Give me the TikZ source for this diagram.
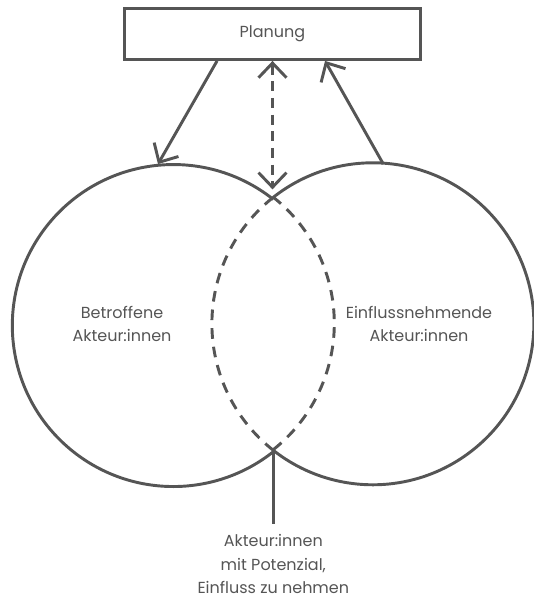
\documentclass[tikz,border=0pt]{standalone}
\usepackage{fontspec}
\setmainfont{Poppins}
\usetikzlibrary{arrows.meta,positioning,calc}
\definecolor{ink}{HTML}{555555}

\begin{document}
\begin{tikzpicture}[x=0.75pt,y=0.75pt,
    every node/.style={text=ink,font=\fontsize{12}{17.5}\selectfont},
    box/.style={draw=ink,line width=2.4pt,minimum width=222pt,minimum height=38pt},
    ring/.style={circle,minimum size=241.5pt,inner sep=0pt,outer sep=0pt},
    solidline/.style={draw=ink,line width=2.2pt},
    dashline/.style={draw=ink,line width=2.2pt,dash pattern=on 8pt off 6pt},
    arr/.style={solidline,-{Straight Barb[length=11pt,width=21pt]}},
    dasharr/.style={draw=ink,line width=2.2pt,dash pattern=on 7.5pt off 5pt,
        {Straight Barb[length=11pt,width=21pt]}-{Straight Barb[length=11pt,width=21pt]}},
    lbl/.style={align=center}]
    \useasboundingbox (0,0) rectangle (534,600);

    % Planung oben
    \node[box] (planung) at (272.5,566) {Planung};

    % die zwei Kreise
    \node[ring] (betr) at (172,275.5) {};
    \node[ring] (einfl) at (372,275.5) {};
    \coordinate (lenstop) at (betr.51.6);
    \coordinate (lensbot) at (betr.-51.6);

    \draw[solidline] (betr.51.6) arc[start angle=51.6,end angle=308.4,radius=120.75pt];
    \draw[solidline] (einfl.128.4) arc[start angle=128.4,end angle=-128.4,radius=120.75pt];
    \draw[dashline] (betr.-51.6) arc[start angle=-51.6,end angle=51.6,radius=120.75pt];
    \draw[dashline] (einfl.128.4) arc[start angle=128.4,end angle=231.6,radius=120.75pt];

    \node[lbl] (betrtxt) at (122,276) {Betroffene\\Akteur:innen};
    \node[lbl] (einfltxt) at (419,276) {Einflussnehmende\\Akteur:innen};

    % Pfeile
    \draw[arr] ([xshift=-41.6pt]planung.south) -- (betr.95);
    \draw[arr] (einfl.86) -- ([xshift=39.4pt]planung.south);
    \draw[dasharr,shorten >=7.5pt] (planung.south) -- (planung.south |- lenstop);

    % unten
    \coordinate[below=56pt of lensbot] (stemend);
    \node[lbl,below=7.5pt of stemend,inner sep=0pt] (potenzial) {Akteur:innen\\mit Potenzial,\\Einfluss zu nehmen};
    \draw[solidline] (lensbot) -- (stemend);
\end{tikzpicture}
\end{document}
